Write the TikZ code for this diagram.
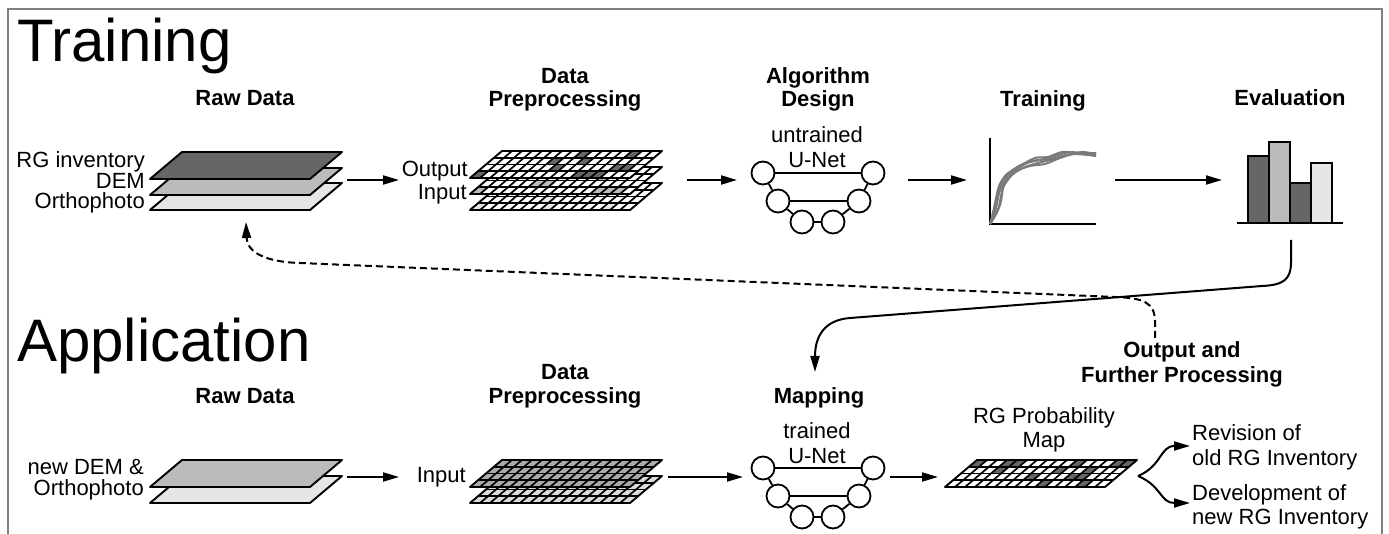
\documentclass[tikz,border=0pt]{standalone}
\usepackage{fontspec}
\setmainfont{Liberation Sans}
\usetikzlibrary{arrows.meta}
\definecolor{dk}{HTML}{666666}
\definecolor{md}{HTML}{BBBBBB}
\definecolor{lt}{HTML}{E6E6E6}
\definecolor{mg}{HTML}{AAAAAA}
\definecolor{lg}{HTML}{DCDCDC}
\definecolor{framec}{HTML}{808080}
\definecolor{curvec}{HTML}{7A7A7A}

\newcommand{\plainlayer}[3]{%
 \begin{scope}[shift={(#1,#2)}, xslant=1.185]
 \draw[layerline, fill=#3] (0,0) rectangle (160,-27);
 \end{scope}}
\newcommand{\gridlines}{%
 \foreach \c in {1,...,15} \draw[gridline] (\c*10,0) -- (\c*10,-27);
 \foreach \r in {1,2,3} \draw[gridline] (0,-\r*6.75) -- (160,-\r*6.75);
 \draw[layerline] (0,0) rectangle (160,-27);}
\newcommand{\gridlayer}[4]{%
 \begin{scope}[shift={(#1,#2)}, xslant=1.185]
 \fill[white] (0,0) rectangle (160,-27);
 \foreach \c/\r in {#4} \fill[#3] (\c*10,-\r*6.75) rectangle ++(10,-6.75);
 \gridlines
 \end{scope}}
\newcommand{\fullgrid}[3]{%
 \begin{scope}[shift={(#1,#2)}, xslant=1.185]
 \fill[#3] (0,0) rectangle (160,-27);
 \gridlines
 \end{scope}}
\newcommand{\unet}[2]{%
 \node[unit] (#1a) at (763,#2) {};
 \node[unit] (#1b) at (873,#2) {};
 \node[unit] (#1c) at (778,#2+28) {};
 \node[unit] (#1d) at (859,#2+28) {};
 \node[unit] (#1e) at (802,#2+49) {};
 \node[unit] (#1f) at (833,#2+49) {};
 \draw[uline] (#1a) -- (#1b);
 \draw[uline] (#1c) -- (#1d);
 \draw[uline] (#1e) -- (#1f);
 \draw[uline] (#1a) -- (#1c);
 \draw[uline] (#1c) -- (#1e);
 \draw[uline] (#1f) -- (#1d);
 \draw[uline] (#1d) -- (#1b);}

\begin{document}
\begin{tikzpicture}[x=1pt,y=-1pt,
 lbl/.style={font=\fontsize{22}{26}\selectfont\bfseries, anchor=base, inner sep=0pt},
 txt/.style={font=\fontsize{22}{26}\selectfont, anchor=base, inner sep=0pt},
 rtxt/.style={txt, anchor=base east},
 ltxt/.style={txt, anchor=base west},
 ttl/.style={font=\fontsize{60}{60}\selectfont, anchor=base west, inner sep=0pt},
 arr/.style={line width=2pt, -{Triangle[length=16pt,width=9pt]}},
 unit/.style={circle, draw, line width=1.8pt, fill=white, minimum size=23pt, inner sep=0pt},
 uline/.style={line width=1.8pt},
 layerline/.style={line width=1.9pt, line join=round},
 gridline/.style={line width=1.7pt},
 bar/.style={line width=1.8pt, draw=black},
 curve/.style={draw=curvec, line width=2pt},
]
\useasboundingbox (0,0) rectangle (1389,534);
\fill[white] (0,0) rectangle (1389,534);
\draw[framec, line width=2pt] (8,534) -- (8,9) -- (1382,9) -- (1382,534);

% titles
\node[ttl] (t1) at (17,62) {Training};
\node[ttl] (t2) at (17,362) {Application};

% ---------- Training row ----------
\node[lbl] (l1) at (245,106) {Raw Data};
\node[lbl] (l2) at (565,84) {Data};
\node[lbl] (l2b) at (565,107) {Preprocessing};
\node[lbl] (l3) at (818,84) {Algorithm};
\node[lbl] (l3b) at (818,107) {Design};
\node[lbl] (l4) at (1043,107) {Training};
\node[lbl] (l5) at (1290,106) {Evaluation};

\plainlayer{150}{210}{lt}
\plainlayer{150}{195}{md}
\plainlayer{150}{179}{dk}
\node[rtxt] (r1) at (145,168) {RG inventory};
\node[rtxt] (r2) at (145,189) {DEM};
\node[rtxt] (r3) at (145,209) {Orthophoto};

\gridlayer{470}{210}{lt}{0/0,7/0,13/0,6/1,3/2,10/2}
\gridlayer{470}{194}{md}{0/0,12/0,13/0,14/0,5/1,6/1,11/2}
\gridlayer{470}{178}{dk}{0/0,10/0,11/0,12/0,7/1,13/1,14/1,6/2,9/2,8/3,13/3}
\node[rtxt] (p1) at (468,177) {Output};
\node[rtxt] (p2) at (467,200) {Input};

\node[txt] (u1t) at (817,143) {untrained};
\node[txt] (u1n) at (817,168) {U-Net};
\unet{ua}{173}

% training plot
\draw[line width=2pt] (990,138) -- (990,224) -- (1096,224);
\draw[curve] plot[smooth] coordinates {(990,224) (996,205) (1001,183) (1010,172) (1023,164) (1040,160) (1055,156) (1070,152) (1085,154) (1096,154)};
\draw[curve] plot[smooth] coordinates {(990,224) (998,210) (1003,188) (1012,175) (1025,167) (1042,162) (1058,158) (1072,154) (1096,155)};
\draw[curve] plot[smooth] coordinates {(990,224) (995,212) (1000,190) (1008,176) (1020,166) (1035,158) (1048,157) (1062,152) (1078,153) (1096,153)};
\draw[curve] plot[smooth] coordinates {(990,224) (1000,205) (1004,185) (1015,172) (1030,166) (1045,164) (1060,158) (1075,154) (1096,156)};
\draw[curve] plot[smooth] coordinates {(990,224) (994,208) (999,186) (1007,174) (1018,168) (1032,161) (1050,159) (1066,155) (1082,152) (1096,154)};

% bars
\draw[bar, fill=dk] (1248,223) rectangle (1269,156);
\draw[bar, fill=md] (1269,223) rectangle (1290,142);
\draw[bar, fill=dk] (1290,223) rectangle (1311,183);
\draw[bar, fill=lt] (1311,223) rectangle (1332,163);
\draw[line width=2pt] (1237,223) -- (1343,223);

% arrows training
\coordinate (a1s) at (347,180); \coordinate (a1e) at (399,180);
\coordinate (a2s) at (687,180); \coordinate (a2e) at (737,180);
\coordinate (a3s) at (908,180); \coordinate (a3e) at (967,180);
\coordinate (a4s) at (1115,180); \coordinate (a4e) at (1222,180);
\draw[arr] (a1s) -- (a1e);
\draw[arr] (a2s) -- (a2e);
\draw[arr] (a3s) -- (a3e);
\draw[arr] (a4s) -- (a4e);

% ---------- Application row ----------
\node[lbl] (m1) at (245,403) {Raw Data};
\node[lbl] (m2) at (565,380) {Data};
\node[lbl] (m2b) at (565,403) {Preprocessing};
\node[lbl] (m3) at (819,403) {Mapping};
\node[lbl] (m4) at (1182,358) {Output and};
\node[lbl] (m4b) at (1182,382) {Further Processing};

\plainlayer{150}{503}{lt}
\plainlayer{150}{487}{md}
\node[rtxt] (s1) at (144,474) {new DEM \&};
\node[rtxt] (s2) at (144,495) {Orthophoto};

\fullgrid{470}{503}{lg}
\fullgrid{470}{487}{mg}
\node[rtxt] (q1) at (466,482) {Input};

\node[txt] (u2t) at (817,438) {trained};
\node[txt] (u2n) at (817,463) {U-Net};
\unet{ub}{468}

\gridlayer{945}{487}{dk}{9/0,13/0,7/1,11/1,12/1,3/2,9/2,12/2,0/3,3/3,4/3,10/3,14/3,15/3}
\node[txt] (pm1) at (1044,423) {RG Probability};
\node[txt] (pm2) at (1044,447) {Map};

\node[ltxt] (o1) at (1192,440) {Revision of};
\node[ltxt] (o2) at (1192,465) {old RG Inventory};
\node[ltxt] (o3) at (1192,500) {Development of};
\node[ltxt] (o4) at (1192,524) {new RG Inventory};

\coordinate (b1s) at (347,477); \coordinate (b1e) at (399,477);
\coordinate (b2s) at (668,477); \coordinate (b2e) at (743,477);
\coordinate (b3s) at (890,477); \coordinate (b3e) at (938,477);
\draw[arr] (b1s) -- (b1e);
\draw[arr] (b2s) -- (b2e);
\draw[arr] (b3s) -- (b3e);

\coordinate (fork) at (1138,476);
\coordinate (rev) at (1190,446);
\coordinate (dev) at (1190,503);
\draw[arr] (fork) .. controls (1162,466) and (1160,446) .. (rev);
\draw[arr] (fork) .. controls (1162,486) and (1160,503) .. (dev);

% long connectors
\coordinate (evb) at (1291,240);
\coordinate (mapt) at (815,372);
\draw[arr] (evb) -- (1291,262) .. controls (1291,280) and (1283,285) .. (1262,286) -- (850,318) .. controls (823,320) and (815,338) .. (mapt);
\coordinate (outt) at (1155,338);
\coordinate (rawb) at (246,222);
\draw[arr, dash pattern=on 7pt off 4pt] (outt) -- (1155,322) .. controls (1155,302) and (1143,298) .. (1115,297) -- (300,263) .. controls (265,262) and (247,252) .. (rawb);
\end{tikzpicture}
\end{document}
